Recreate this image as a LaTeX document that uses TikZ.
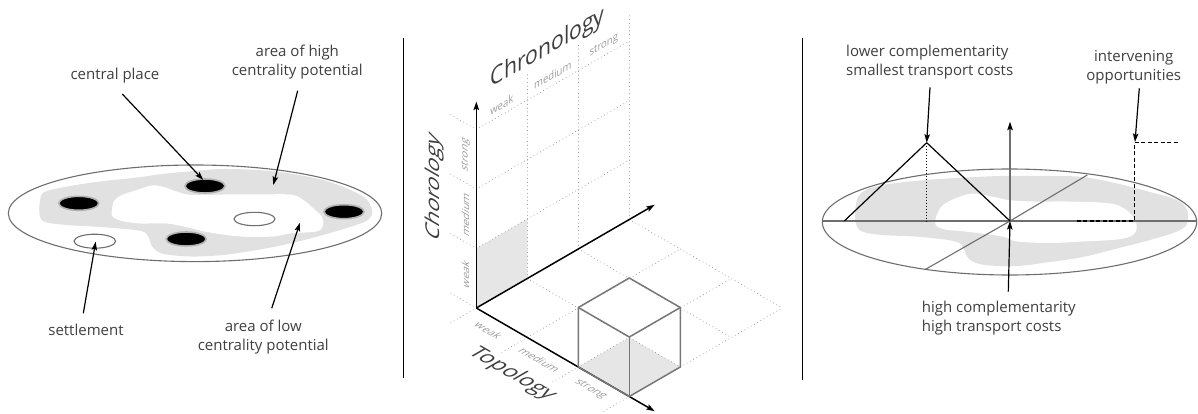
\documentclass[tikz,border=0pt]{standalone}
\usepackage{fontspec}
\setmainfont{Open Sans}
\usetikzlibrary{arrows.meta}
\definecolor{txt}{HTML}{3F3F3F}
\definecolor{blob}{HTML}{E1E1E1}
\definecolor{rim}{HTML}{6E6E6E}
\definecolor{smallc}{HTML}{9C9C9C}
\definecolor{dotc}{HTML}{9A9A9A}
\definecolor{cubec}{HTML}{777777}
\definecolor{shadec}{HTML}{E6E6E6}
\begin{document}
\begin{tikzpicture}[x=1pt,y=-1pt,
  arr/.style={-{Stealth[length=8.5pt,width=5.5pt,inset=1.5pt]},line width=1.2pt,black},
  lab/.style={font=\fontsize{15}{19.3}\selectfont,text=txt,inner sep=0pt,anchor=base},
  rimline/.style={draw=rim,line width=1.1pt},
  cplace/.style={fill=black,draw=gray!60,line width=1.6pt},
  settle/.style={fill=white,draw=rim,line width=1.1pt},
  dotline/.style={draw=dotc,line width=1pt,dash pattern=on 0.1pt off 3.6pt,line cap=round},
  sepline/.style={draw=black,line width=1.3pt},
  biglab/.style={font=\fontsize{22}{26}\selectfont,text=txt,inner sep=0pt},
  smalllab/.style={font=\fontsize{11}{13}\selectfont,text=smallc,inner sep=0pt},
  cubeline/.style={draw=cubec,line width=1.5pt,line join=round},
  wallt/.style={cm={0.866,0.5,0,1,(0,0)}},
  floort/.style={cm={0.866,-0.5,0.866,0.5,(0,0)}},
  sidet/.style={cm={0,1,-0.866,0.5,(0,0)}},
  blackdash/.style={draw=black,line width=1.2pt,dash pattern=on 4pt off 2.5pt},
  blackdot/.style={draw=black,line width=1.2pt,dash pattern=on 1pt off 2pt},
]
\useasboundingbox (0,0) rectangle (1198,414);

% ---------------- left panel ----------------
\fill[blob] plot[smooth cycle,tension=0.55] coordinates {
 (39.3,212) (41,196) (47,191) (67,186.5) (100,181.5) (133,178) (167,173.5) (200,170.5)
 (223,169) (257,170) (290,173.5) (323,180) (347,188.5) (365,198) (372,210) (368,220)
 (350,227) (323,235) (290,243.5) (257,250) (223,255) (190,256.5) (162,253.5) (152,246)
 (148,236) (139,230.5) (100,227) (67,225) (44,221.5)};
\fill[white] plot[smooth cycle,tension=0.55] coordinates {
 (111.7,212) (114,201) (122,195) (137,190) (152,185.5) (164,187) (178,192) (192,195)
 (223,194.5) (257,194.5) (290,194.5) (302,199) (313,208) (322,217) (323,226) (316,231.5)
 (290,233.5) (273,236.5) (240,236.5) (207,232) (190,228) (167,223.5) (140,223.5) (122,221) (113,217)};
\draw[rimline] (195,213.3) ellipse [x radius=186.7pt,y radius=48.3pt];
\draw[cplace] (205,186) ellipse [x radius=20pt,y radius=7pt];
\draw[cplace] (78.8,203.3) ellipse [x radius=20pt,y radius=7pt];
\draw[cplace] (344,211.7) ellipse [x radius=20pt,y radius=7pt];
\draw[cplace] (186.2,239) ellipse [x radius=20pt,y radius=7pt];
\draw[settle] (254.5,219) ellipse [x radius=20.5pt,y radius=6.7pt];
\draw[settle] (94.8,241.2) ellipse [x radius=20.8pt,y radius=7pt];

\node[lab,align=center] (cp) at (115,80) {central place};
\node[lab,align=center] (hi) at (297.3,76) {area of high\\centrality potential};
\node[lab] (st) at (86,335) {settlement};
\node[lab,align=center] (lo) at (263.3,350.7) {area of low\\centrality potential};

\coordinate (cpA) at (122.3,94);   \coordinate (cpB) at (203.3,180);
\coordinate (hiA) at (297.7,90.7); \coordinate (hiB) at (273.3,185);
\coordinate (stA) at (83.3,313.3); \coordinate (stB) at (95.7,241.7);
\coordinate (loA) at (271.7,308.3);\coordinate (loB) at (300,222.7);
\draw[arr] (cpA) -- (cpB);
\draw[arr] (hiA) -- (hiB);
\draw[arr] (stA) -- (stB);
\draw[arr] (loA) -- (loB);

% separators
\coordinate (s1a) at (403.3,38); \coordinate (s1b) at (403.3,378);
\coordinate (s2a) at (802.7,38); \coordinate (s2b) at (802.7,380);
\draw[sepline] (s1a) -- (s1b);
\draw[sepline] (s2a) -- (s2b);

% ---------------- middle panel ----------------
\begin{scope}[shift={(476.3,308)},x={(51pt,-29.5pt)},y={(51pt,29.5pt)},z={(0pt,59.5pt)}]
 \fill[shadec] (0,0,0) -- (0,1,0) -- (0,1,1) -- (0,0,1) -- cycle;
 \fill[shadec] (2,0,0) -- (3,0,0) -- (3,1,0) -- (2,1,0) -- cycle;
 \foreach \hh in {1,2,3} \draw[dotline] (0,0,\hh) -- (0,3,\hh);
 \foreach \hh in {0,1,2,3} \draw[dotline] (-0.5,0,\hh) -- (0,0,\hh);
 \foreach \jj in {1,2,3} \draw[dotline] (0,\jj,0) -- (0,\jj,3.45);
 \foreach \jj in {1,2,3} \draw[dotline] (0,\jj,0) -- (3,\jj,0);
 \foreach \ii in {1,2,3} \draw[dotline] (\ii,-0.5,0) -- (\ii,3,0);
 \draw[dotline] (0,-0.5,0) -- (0,0,0);

 \node[biglab,wallt,font=\fontsize{24.5}{28}\selectfont] (chron) at (0,1.4,3.67) {Chronology};
 \node[biglab,sidet] (chor) at (-0.81,0,1.63) {Chorology};
 \node[biglab,floort] (topo) at (1.465,-0.76,0) {Topology};

 \node[smalllab,wallt] (cw) at (0,0.5,3.17) {weak};
 \node[smalllab,wallt] (cm) at (0,1.5,3.17) {medium};
 \node[smalllab,wallt] (cs) at (0,2.5,3.17) {strong};
 \node[smalllab,sidet] (hw) at (-0.21,0,0.47) {weak};
 \node[smalllab,sidet] (hm) at (-0.21,0,1.47) {medium};
 \node[smalllab,sidet] (hs) at (-0.21,0,2.47) {strong};
 \node[smalllab,floort] (tw) at (0.5,-0.26,0) {weak};
 \node[smalllab,floort] (tm) at (1.5,-0.26,0) {medium};
 \node[smalllab,floort] (ts) at (2.5,-0.26,0) {strong};

 \coordinate (O) at (0,0,0);
 \coordinate (Tax) at (3.5,0,0);
 \coordinate (Cax) at (0,3.5,0);
 \coordinate (Hax) at (0,0,3.47);
 \draw[arr,line width=1.5pt] (O) -- (Tax);
 \draw[arr,line width=1.5pt] (O) -- (Cax);
 \draw[arr,line width=1.5pt] (O) -- (Hax);

 \draw[cubeline] (2,0,0) -- (3,0,0) -- (3,1,0) -- (3,1,1) -- (2,1,1) -- (2,0,1) -- cycle;
 \draw[cubeline] (2,0,1) -- (3,0,1) -- (3,1,1);
 \draw[cubeline] (3,0,1) -- (3,0,0);
\end{scope}

% ---------------- right panel ----------------
\fill[blob] plot[smooth cycle,tension=0.55] coordinates {
 (855,212) (858,197) (866,190) (882,185) (915,181) (948,178.5) (1000,176) (1050,176)
 (1083,177) (1117,183.5) (1150,192) (1177,200) (1187,210) (1187,224) (1177,231.5)
 (1150,240) (1117,248.5) (1083,257) (1050,262) (1017,266) (985,265) (970,260) (965,252)
 (961,244) (948,240) (915,236.5) (882,235) (862,231.5) (856,224)};
\fill[white] plot[smooth cycle,tension=0.55] coordinates {
 (935,222) (938,212) (943,205) (955,198.5) (972,193.5) (992,196.5) (1008,200) (1033,201.5)
 (1067,201.5) (1100,202.5) (1117,205) (1130,213) (1136.7,225) (1133,235) (1117,239.5)
 (1083,241.5) (1050,243) (1017,241.5) (1002,236.5) (965,231.5) (948,230) (938,227)};
\draw[rimline] (1009.5,222) ellipse [x radius=187.2pt,y radius=53pt];
\coordinate (hL) at (822.4,221); \coordinate (hR) at (1196.6,221);
\draw[rimline] (hL) -- (hR);
\coordinate (C) at (1010,221);
\coordinate (dA) at (925,269.6); \coordinate (dB) at (1087.3,175);
\draw[rimline] (C) -- (dA);
\draw[rimline] (C) -- (dB);
\coordinate (vTop) at (1010,121.7);
\draw[draw=rim,line width=1.1pt,-{Stealth[length=8.5pt,width=5.5pt,inset=1.5pt,color=black]}] (C) -- (vTop);

\coordinate (tL) at (844.3,221);
\coordinate (apex) at (926.7,142.7);
\coordinate (apexF) at (926.7,221);
\draw[black,line width=1.2pt,line join=round] (tL) -- (apex) -- (C);
\draw[blackdot] (apex) -- (apexF);

\coordinate (q1) at (1076.7,221); \coordinate (q2) at (1134.3,221);
\coordinate (q3) at (1134.3,142.7); \coordinate (q4) at (1178.3,142.7);
\draw[blackdash] (q1) -- (q2) -- (q3) -- (q4);

\node[lab,align=left,anchor=base west] (lc) at (846,76) {lower complementarity\\smallest transport costs};
\node[lab,align=center] (io) at (1133.7,81) {intervening\\opportunities};
\node[lab,align=left,anchor=base west] (hc) at (921.7,331.7) {high complementarity\\high transport costs};

\coordinate (lcA) at (930,87.3);
\coordinate (ioA) at (1139.3,88.3); \coordinate (ioB) at (1135,142);
\coordinate (hcA) at (1008.3,291.7);
\draw[arr] (lcA) -- (apex);
\draw[arr] (ioA) -- (ioB);
\draw[arr] (hcA) -- (C);
\end{tikzpicture}
\end{document}
